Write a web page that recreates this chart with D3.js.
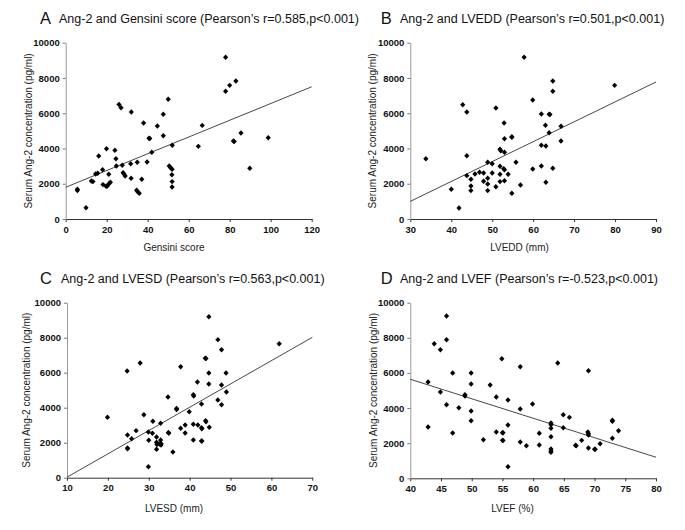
<!DOCTYPE html>
<html><head><meta charset="utf-8">
<script src="https://cdn.jsdelivr.net/npm/d3@7"></script>
<style>body{margin:0;background:#fff}svg{display:block}</style>
</head><body><svg id="c" width="685" height="530"></svg>
<script>
// ---- data ----
const gensiniData = [[78,9170],[78,7240],[80,7580],[83,7830],[26,6500],[27,6310],[32,6070],[50,6790],[47.6,5940],[38,5450],[44.7,5280],[66.6,5310],[47.6,4725],[40.6,4580],[41,4560],[52,4180],[64.7,4120],[85.5,4880],[98.8,4610],[81.8,4420],[82.2,4400],[89.8,2880],[42,3780],[39.7,3230],[34.9,3220],[31.7,3140],[27.6,3050],[24.7,3010],[24.5,3420],[24,3900],[19.9,3990],[16.1,3570],[18,2800],[15.6,2590],[14.6,2550],[21,2540],[28,2630],[28.5,2540],[29,2440],[31.9,2310],[37.1,2250],[12.5,2160],[13.3,2120],[18.2,1950],[19.7,1860],[20.3,1870],[21.1,2000],[21.8,2080],[34.6,1630],[35.1,1550],[35.9,1460],[50.5,3010],[51.2,2910],[51.9,2820],[51.8,2510],[51.9,2120],[51.9,1820],[5.7,1690],[5.7,1610],[9.9,640]];
const lvedData = [[57.8,9170],[64.8,7830],[64.8,7240],[79.9,7580],[59.9,6750],[42.8,6480],[43.8,6070],[50.9,6300],[62,5960],[63.9,5940],[64.1,5930],[52.9,5440],[63,5315],[66.8,5260],[53,4555],[54.8,4670],[54.8,4630],[63.9,4895],[62,4180],[63.1,4140],[66.8,4420],[51.9,3950],[52.1,3870],[53,3780],[33.8,3420],[43.8,3590],[48.9,3220],[50,3140],[55.8,3220],[51.9,2990],[52.8,2850],[53,2800],[59.9,2840],[62,3010],[64.8,2880],[43.8,2460],[45.8,2550],[46.9,2650],[47.9,2610],[50,2610],[51.9,2535],[53.9,2535],[44.8,2250],[47.9,2140],[48.9,2310],[51.9,2120],[53,2170],[48.9,1990],[44.8,1870],[50.9,1830],[56.9,1930],[63.1,2080],[40,1690],[44.8,1610],[48.9,1610],[54.8,1460],[41.9,620]];
const lvesData = [[44.7,9200],[46.9,7890],[47.8,7310],[61.9,7660],[43.8,6820],[44,6810],[27.9,6550],[24.7,6100],[37.8,6340],[44.7,5980],[48.9,5980],[41.9,5470],[44.7,5350],[47.8,5300],[34.7,4610],[40.9,4740],[41,4670],[42.9,4210],[46.9,4440],[47.8,4170],[49,4900],[36.8,3960],[36.8,3900],[39.9,3770],[19.9,3450],[28.8,3600],[31,3220],[32.9,3110],[43.9,3260],[44,3200],[38.9,3010],[40.9,3050],[42,3010],[37.8,2820],[42.9,2860],[43,2800],[44.8,2880],[34.8,2590],[34.9,2540],[38.9,2550],[29.9,2610],[30.9,2540],[24.8,2440],[26.9,2690],[25.8,2230],[31.9,2330],[30,2140],[32.9,2150],[31.9,2020],[32,1900],[32.6,1930],[33,1960],[33,1870],[31.9,1620],[35.9,1470],[40.9,2150],[42.9,2100],[43,2100],[24.8,1700],[24.8,1660],[29.9,630]];
const lvefData = [[45.9,9240],[43.9,7660],[44.9,7320],[45.9,7890],[54.9,6810],[57.9,6350],[64,6570],[69,6130],[46.9,6000],[49.9,6000],[42.9,5480],[49.9,5370],[53,5310],[44.9,4910],[48.9,4760],[48.9,4690],[45.9,4190],[54,4630],[55.9,4460],[59.9,4230],[47.9,4020],[49.9,3830],[57.9,3950],[64.9,3620],[65.9,3470],[49.9,3280],[42.9,2920],[55.9,3030],[62.9,3150],[62.9,3050],[72.9,3300],[72.9,3250],[62.9,2850],[64.9,2880],[73.9,2710],[46.9,2580],[54,2640],[55,2600],[55.1,2590],[61,2560],[68.9,2640],[69,2540],[69,2470],[62.9,2370],[72.9,2280],[51.9,2200],[55,2160],[55.1,2150],[67.9,2160],[57.9,2070],[70.9,1970],[58.9,1860],[61,1900],[66.9,1880],[67,1860],[62.9,1670],[62.9,1560],[62.9,1480],[69,1720],[70,1650],[70.1,1650],[55.9,660]];

const fitLines = {
  A: [[0,1800],[120,7500]],
  B: [[30,1000],[90,7770]],
  C: [[10,30],[70,8020]],
  D: [[40,5640],[80,1200]]
};
const panelLetters = ["A","B","C","D"];
const panelTitles = [
  "Ang-2 and Gensini score (Pearson\u2019s r=0.585,p<0.001)",
  "Ang-2 and LVEDD (Pearson\u2019s r=0.501,p<0.001)",
  "Ang-2 and LVESD (Pearson\u2019s r=0.563,p<0.001)",
  "Ang-2 and LVEF (Pearson\u2019s r=-0.523,p<0.001)"
];
const xLabels = ["Gensini score","LVEDD (mm)","LVESD (mm)","LVEF (%)"];
const yLabel = "Serum Ang-2 concentration (pg/ml)";
const xDomains = [[0,120],[30,90],[10,70],[40,80]];
const xTicks = [[0,20,40,60,80,100,120],[30,40,50,60,70,80,90],[10,20,30,40,50,60,70],[40,45,50,55,60,65,70,75,80]];
const yTicks = [0,2000,4000,6000,8000,10000];
const datasets = [gensiniData, lvedData, lvesData, lvefData];

// ---- layout ----
const layout = [
  {x0:65.7,x1:311.7,yT:42.7,yB:219,letX:40,txtX:59,titleY:24,xlabX:174,xlabY:251,ylabX:28.5},
  {x0:410.3,x1:656,yT:42.7,yB:219,letX:380.7,txtX:400,titleY:24,xlabX:519.5,xlabY:251,ylabX:372},
  {x0:67,x1:312.3,yT:302.7,yB:477.7,letX:40,txtX:61,titleY:283.5,xlabX:174,xlabY:512,ylabX:26.5},
  {x0:410.3,x1:656,yT:302.7,yB:478.3,letX:380.7,txtX:400,titleY:283.5,xlabX:512.5,xlabY:512,ylabX:373}
];

const svg = d3.select("#c");
const FONT = "'Liberation Sans', Arial, sans-serif";
const diamond = {draw(ctx,size){const r=Math.sqrt(size/2);ctx.moveTo(0,-r);ctx.lineTo(r*0.95,0);ctx.lineTo(0,r);ctx.lineTo(-r*0.95,0);ctx.closePath();}};
const sym = d3.symbol().type(diamond).size(15);

panelLetters.forEach((L,i)=>{
  const g = layout[i];
  const x = d3.scaleLinear().domain(xDomains[i]).range([g.x0,g.x1]);
  const y = d3.scaleLinear().domain([0,10000]).range([g.yB,g.yT]);
  const p = svg.append("g");

  // title
  p.append("text").attr("x",g.letX).attr("y",g.titleY).attr("font-family",FONT)
    .attr("font-size",16.5).attr("fill","#111").text(L);
  p.append("text").attr("x",g.txtX).attr("y",g.titleY-1).attr("font-family",FONT)
    .attr("font-size",12.5).attr("fill","#111").text(panelTitles[i]);

  // x axis
  const xa = p.append("g").attr("transform",`translate(0,${g.yB})`)
    .call(d3.axisBottom(x).tickValues(xTicks[i]).tickSize(3).tickSizeOuter(0).tickPadding(4).tickFormat(d3.format("d")));
  xa.select(".domain").attr("stroke","#333");
  xa.selectAll(".tick line").attr("stroke","#333");
  xa.selectAll("text").attr("font-family",FONT).attr("font-size",9.5).attr("font-weight","bold").attr("fill","#111");

  // y axis
  const ya = p.append("g").attr("transform",`translate(${g.x0},0)`)
    .call(d3.axisLeft(y).tickValues(yTicks).tickSize(3).tickSizeOuter(0).tickPadding(3).tickFormat(d3.format("d")));
  ya.select(".domain").attr("stroke","#999");
  ya.selectAll(".tick line").attr("stroke","#777");
  ya.selectAll("text").attr("font-family",FONT).attr("font-size",9.5).attr("font-weight","bold").attr("fill","#111");

  // labels
  p.append("text").attr("x",g.xlabX).attr("y",g.xlabY).attr("text-anchor","middle")
    .attr("font-family",FONT).attr("font-size",10).attr("fill","#222").text(xLabels[i]);
  const yc = (g.yT+g.yB)/2;
  p.append("text").attr("transform",`translate(${g.ylabX},${yc}) rotate(-90)`)
    .attr("text-anchor","middle").attr("dominant-baseline","central")
    .attr("font-family",FONT).attr("font-size",10).attr("fill","#222").text(yLabel);

  // fit line
  const fl = fitLines[L];
  p.append("path").attr("d",d3.line().x(d=>x(d[0])).y(d=>y(d[1]))(fl))
    .attr("fill","none").attr("stroke","#333").attr("stroke-width",0.9);

  // points
  p.append("g").selectAll("path").data(datasets[i]).join("path")
    .attr("transform",d=>`translate(${x(d[0])},${y(d[1])})`)
    .attr("d",sym).attr("fill","#000");
});
</script></body></html>
